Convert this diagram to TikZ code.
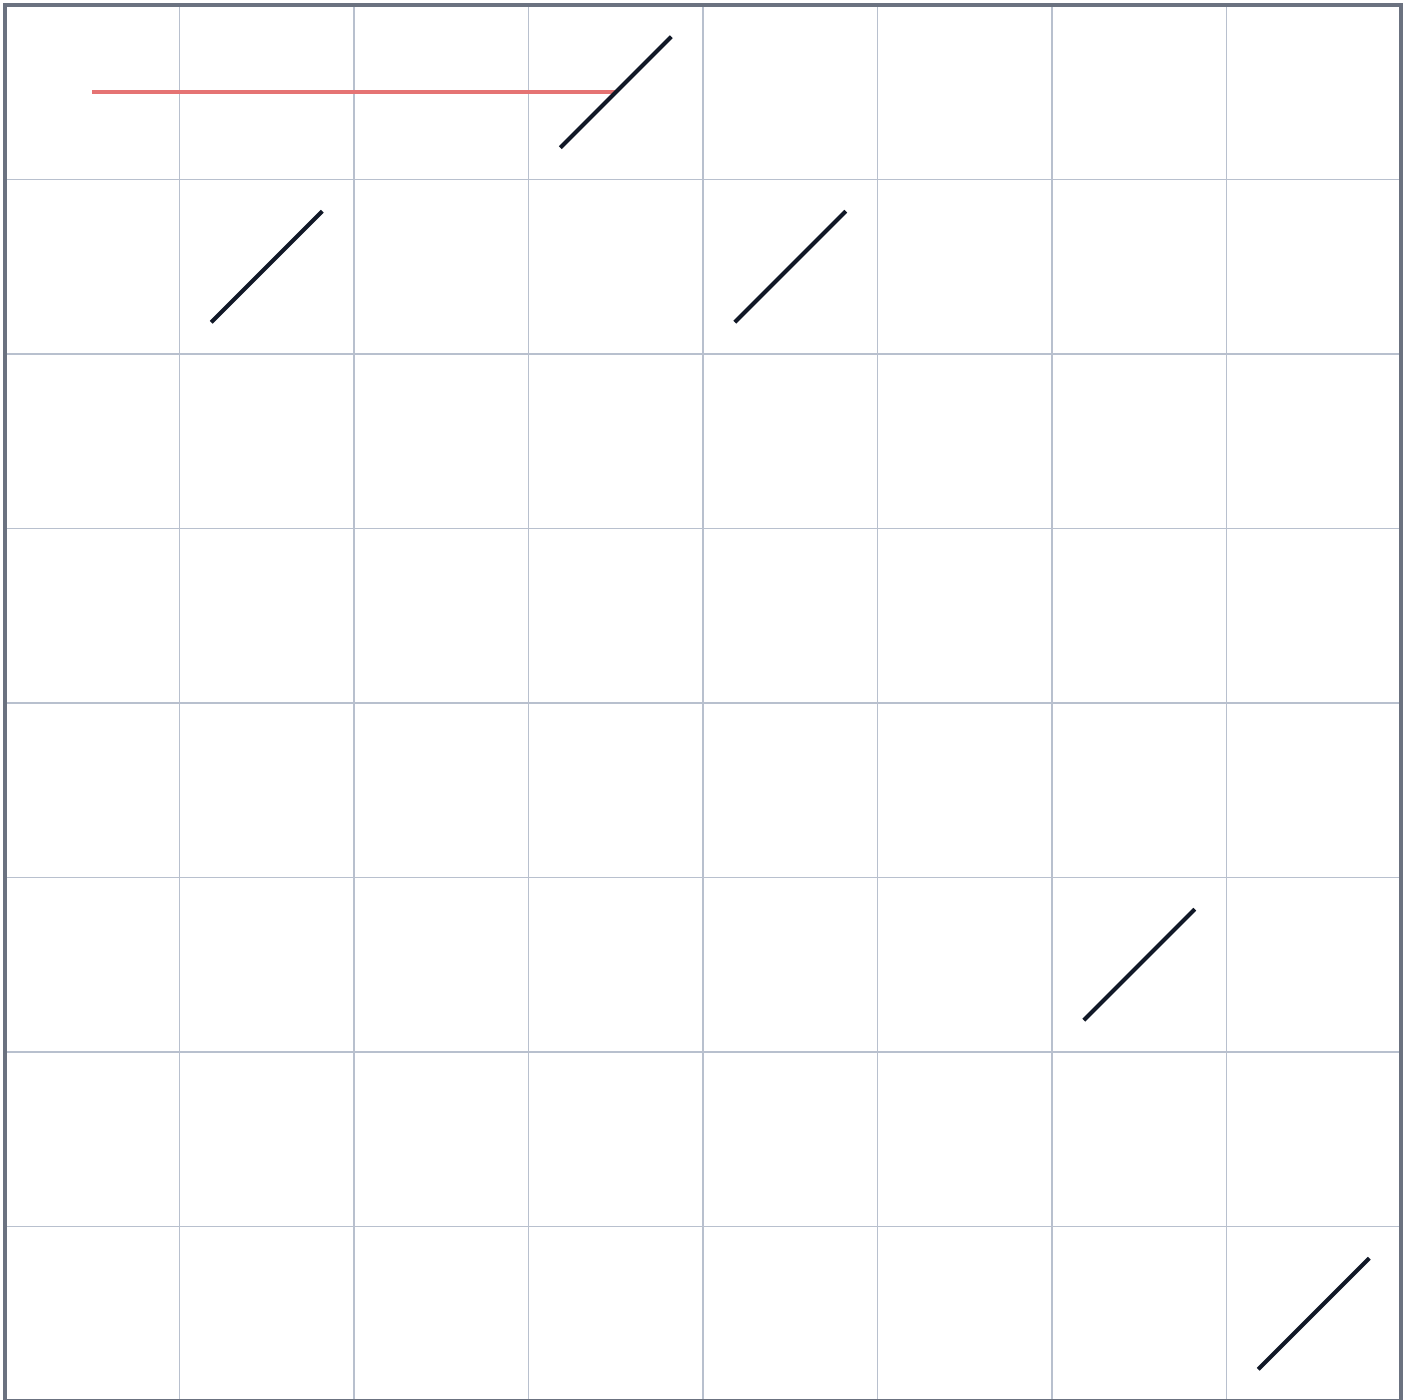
\documentclass[tikz,border=0pt]{standalone}
\usepackage{tikz}
\definecolor{gridc}{HTML}{B8C0CE}
\definecolor{borderc}{HTML}{6B7280}
\definecolor{laserc}{HTML}{E57373}
\definecolor{mirrorc}{HTML}{111827}
\begin{document}
\begin{tikzpicture}[x=0.02cm,y=-0.02cm,
  gridline/.style={draw=gridc,line width=0.6pt},
  borderline/.style={draw=borderc,line width=1.9pt},
  laser/.style={draw=laserc,line width=2.1pt},
  mirror/.style={draw=mirrorc,line width=2.3pt}]
\useasboundingbox (0,0) rectangle (1408,1399);
\def\cs{174.5}
\foreach \i in {1,...,7}{
  \draw[gridline] (5+\i*\cs,5) -- (5+\i*\cs,1401);
  \draw[gridline] (5,5+\i*\cs) -- (1401,5+\i*\cs);
}
\draw[borderline] (5,5) rectangle (1401,1401);
% laser
\coordinate (start) at (5+0.5*\cs,5+0.5*\cs);
\coordinate (m1) at (5+3.5*\cs,5+0.5*\cs);
\draw[laser] (start) -- (m1);
% mirrors
\foreach \c/\r in {3/0,1/1,4/1,6/5,7/7}{
  \draw[mirror] (5+\c*\cs+0.5*\cs-55.5,5+\r*\cs+0.5*\cs+55.5) -- (5+\c*\cs+0.5*\cs+55.5,5+\r*\cs+0.5*\cs-55.5);
}
\end{tikzpicture}
\end{document}
